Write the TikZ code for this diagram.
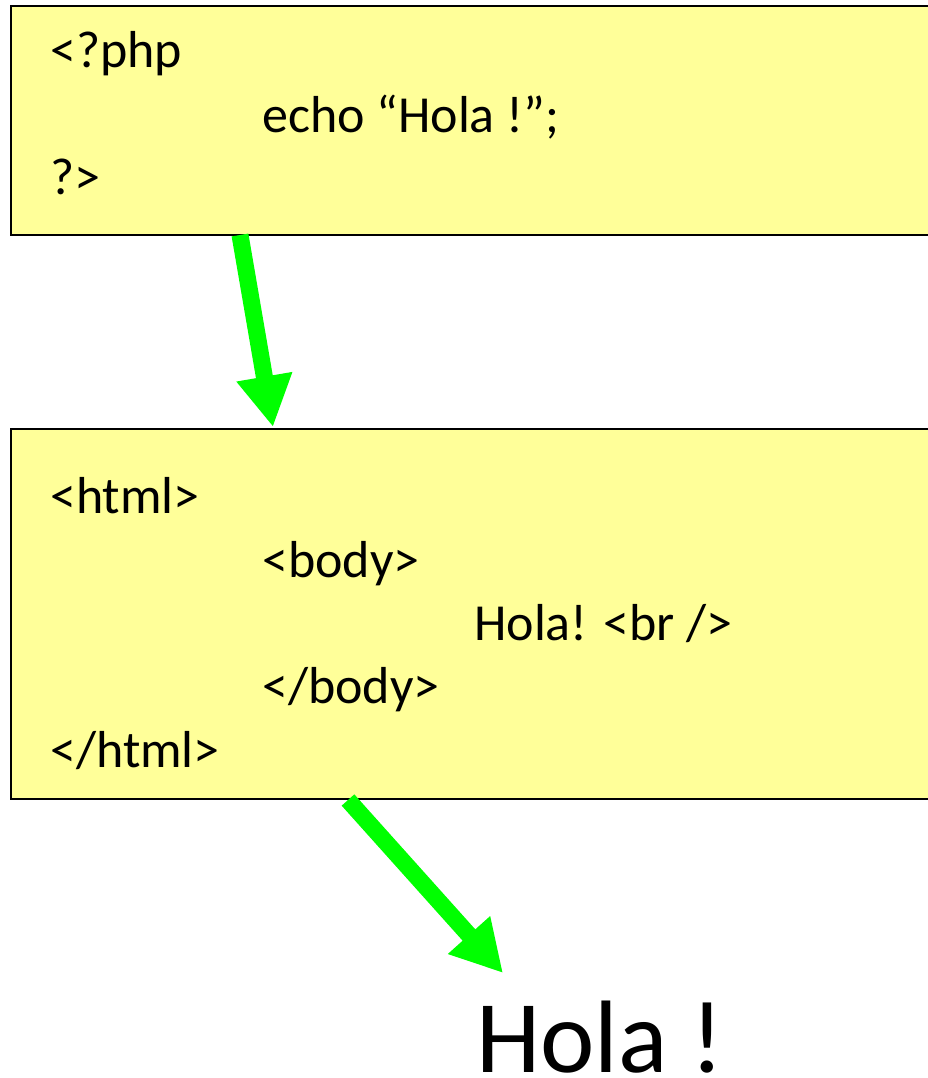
\documentclass[tikz,border=0pt]{standalone}
\usepackage{fontspec}
\setmainfont{Carlito}
\usetikzlibrary{arrows.meta}
\definecolor{boxfill}{HTML}{FFFF99}
\definecolor{arrgreen}{HTML}{00FF00}
\tikzset{
  codebox/.style={draw=black, line width=2pt, fill=boxfill, anchor=north west, inner sep=0pt},
  codeline/.style={anchor=base west, inner sep=0pt, font=\fontsize{52}{63}\selectfont},
  bigout/.style={anchor=base west, inner sep=0pt, font=\fontsize{103}{120}\selectfont},
  greenarrow/.style={draw=arrgreen, line width=17pt, -{Triangle[width=53pt,length=51pt]}, arrgreen}
}
\begin{document}
\begin{tikzpicture}[x=1pt,y=-1pt]
\useasboundingbox (0,0) rectangle (928,1078);
\node[codebox, minimum width=940pt, minimum height=229pt] (php) at (10,5) {};
\node[codebox, minimum width=940pt, minimum height=370pt] (html) at (10,428) {};
\node[codeline] (l1) at (50,68) {<?php};
\node[codeline] (l2) at (262,133) {echo “Hola !”;};
\node[codeline] (l3) at (50,195) {?>};
\node[codeline] (h1) at (50,513) {<html>};
\node[codeline] (h2) at (262,577) {<body>};
\node[codeline] (h3) at (474,640) {Hola! <br />};
\node[codeline] (h4) at (262,703) {</body>};
\node[codeline] (h5) at (50,767) {</html>};
\node[bigout] (out) at (476,1072) {Hola !};
\coordinate (a1s) at (240,235);
\coordinate (a1e) at (273,427);
\coordinate (a2s) at (348,800);
\coordinate (a2e) at (503,973);
\draw[greenarrow] (a1s) -- (a1e);
\draw[greenarrow] (a2s) -- (a2e);
\end{tikzpicture}
\end{document}
